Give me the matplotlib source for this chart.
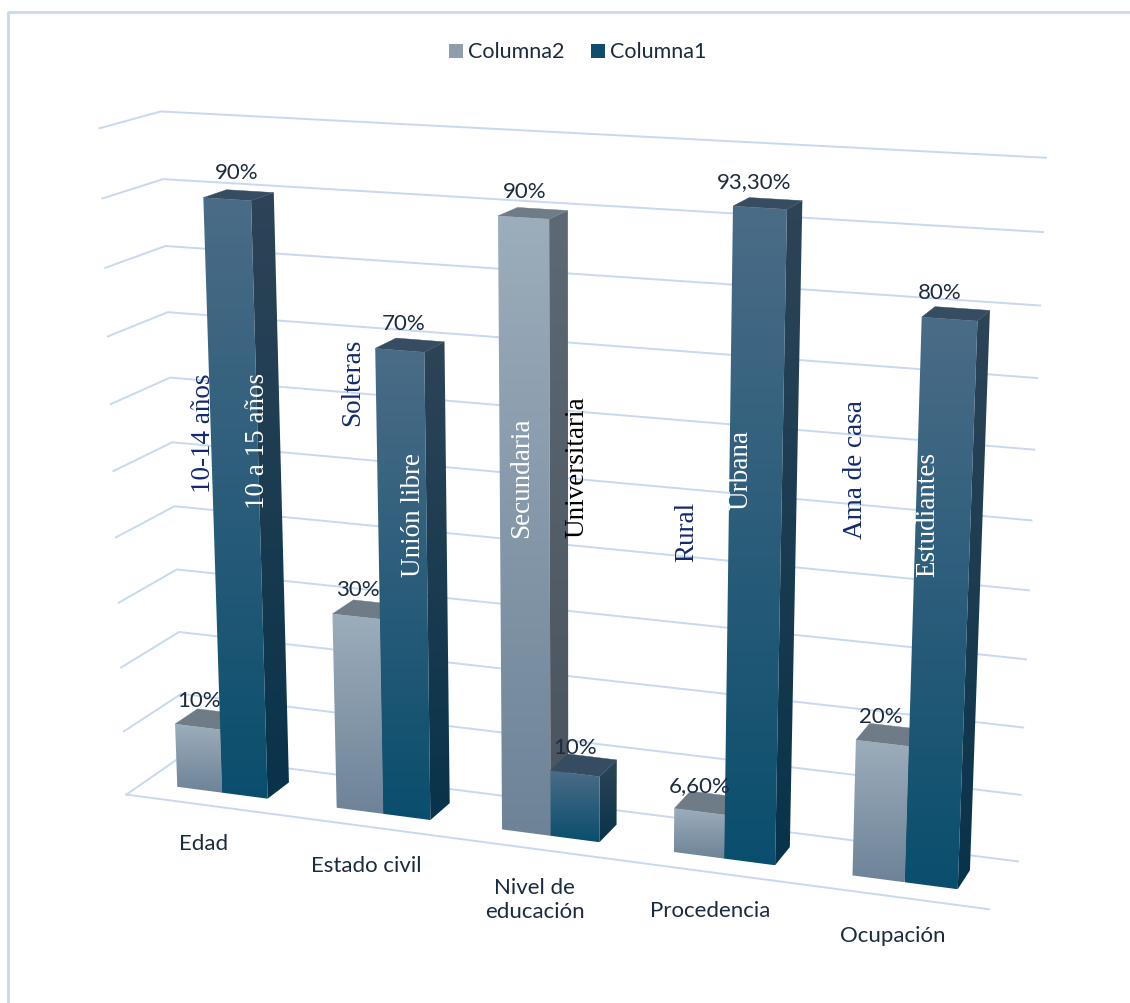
import numpy as np
import matplotlib
matplotlib.use("Agg")
import matplotlib.pyplot as plt
from matplotlib.patches import Polygon, Rectangle
from matplotlib.colors import LinearSegmentedColormap

## Data ---------------------------------------------------------------------
categories = ["Edad", "Estado civil", "Nivel de\neducación", "Procedencia", "Ocupación"]
columna2 = [0.10, 0.30, 0.90, 0.066, 0.20]
columna1 = [0.90, 0.70, 0.10, 0.933, 0.80]
labels2 = ["10%", "30%", "90%", "6,60%", "20%"]
labels1 = ["90%", "70%", "10%", "93,30%", "80%"]
names2 = ["10-14 años", "Solteras", "Secundaria", "Rural", "Ama de casa"]
names1 = ["10 a 15 años", "Unión libre", "Universitaria", "Urbana", "Estudiantes"]
ticks = np.linspace(0, 1, 11)

## Perspective camera (x = category, y = value, z = depth 0 front .. 1 back)
P = np.array([
    [154.2697792575696, -32.51322106791593, 63.6567911207541, 126.39894884341452],
    [6.1484361640897625, -673.5953594411399, -11.800980211896716, 795.5858184275733],
    [-0.01843807320142983, -0.05650059691906504, 0.036670006248791916, 1.0],
])


def proj(x, y, z):
    h = P @ np.array([x, y, z, 1.0])
    return h[0] / h[2], h[1] / h[2]


## Style --------------------------------------------------------------------
grid_c = "#c6d9f1"
text_c = "#1b2b3f"
navy = "#12296b"
bar_w = 1 / 3.5  # gap width 150%
z0, z1 = 0.3, 0.7  # gap depth 150%
col1_front = ("#4b6c87", "#0a4e6d")
col1_side = ("#2e4457", "#08334a")
col1_top = "#364c60"
col2_front = ("#9cadbb", "#6e8398")
col2_side = ("#5d6974", "#48535e")
col2_top = "#6f7c87"
fsize = 16

plt.rcParams["font.family"] = ["Lato", "DejaVu Sans"]

fig = plt.figure(figsize=(11.30, 10.04), dpi=100)
ax = fig.add_axes([0, 0, 1, 1])
ax.axis("off")


def shade(pts, c_top, c_bot, zorder):
    pts = np.array(pts)
    patch = Polygon(pts, closed=True, facecolor="none", edgecolor="none")
    ax.add_patch(patch)
    cmap = LinearSegmentedColormap.from_list("g", [c_top, c_bot])
    grad = np.linspace(0, 1, 256).reshape(-1, 1)
    im = ax.imshow(grad, cmap=cmap, aspect="auto", origin="upper", zorder=zorder,
                   interpolation="bilinear",
                   extent=(pts[:, 0].min(), pts[:, 0].max(), pts[:, 1].max(), pts[:, 1].min()))
    im.set_clip_path(patch)


def bar(x0, x1, v, front, side, top, zorder):
    f = [proj(x0, 0, z0), proj(x1, 0, z0), proj(x1, v, z0), proj(x0, v, z0)]
    s = [proj(x1, 0, z0), proj(x1, 0, z1), proj(x1, v, z1), proj(x1, v, z0)]
    t = [proj(x0, v, z0), proj(x1, v, z0), proj(x1, v, z1), proj(x0, v, z1)]
    shade(s, side[0], side[1], zorder)
    ax.add_patch(Polygon(t, closed=True, facecolor=top, edgecolor=top, lw=0.3, zorder=zorder))
    shade(f, front[0], front[1], zorder + 0.1)


## Walls and floor --------------------------------------------------------
n = len(categories)
for v in ticks:
    pts = [proj(0, v, 0), proj(0, v, 1), proj(n, v, 1)]
    ax.plot([p[0] for p in pts], [p[1] for p in pts], color=grid_c, lw=1.4, zorder=1,
            solid_joinstyle="miter")
a, b = proj(0, 0, 0), proj(n, 0, 0)
ax.plot([a[0], b[0]], [a[1], b[1]], color=grid_c, lw=1.4, zorder=1)

## Bars -------------------------------------------------------------------
for i in range(n):
    c = i + 0.5
    bar(c - bar_w, c, columna2[i], col2_front, col2_side, col2_top, 2 + i)
    bar(c, c + bar_w, columna1[i], col1_front, col1_side, col1_top, 2.5 + i)
    for x0, v, lab in [(c - bar_w, columna2[i], labels2[i]), (c, columna1[i], labels1[i])]:
        px, _ = proj(x0 + bar_w / 2, v / 2, z0)
        _, py = proj(x0 + bar_w / 2, v, z0)
        ax.text(px, py - 27, lab, ha="center", va="center", fontsize=fsize, color=text_c,
                zorder=20)
    # category label below the floor
    px, py = proj(c, 0, 0)
    ax.text(px - 2, py + 28, categories[i], ha="center", va="top", fontsize=fsize,
            color=text_c, linespacing=1.25, zorder=20)

## Text boxes written along the bars --------------------------------------
name_pos2 = [(203, 433, navy), (353, 382, navy), (522, 478, "white"), (687, 532, navy),
             (856, 470, navy)]
name_pos1 = [(257, 441, "white"), (413, 515, "white"), (577, 467, "black"), (741, 470, "white"),
             (928, 515, "white")]
for names, pos in [(names2, name_pos2), (names1, name_pos1)]:
    for txt, (x, y, col) in zip(names, pos):
        ax.text(x, y, txt, rotation=90, ha="center", va="center", fontsize=19.5, color=col,
                family=["Liberation Serif", "DejaVu Serif"], zorder=21)

## Legend -----------------------------------------------------------------
ax.add_patch(Rectangle((449, 45), 14, 14, facecolor="#8d9dab", edgecolor="none", zorder=20))
ax.text(468, 52, "Columna2", ha="left", va="center", fontsize=15.5, color=text_c, zorder=20)
ax.add_patch(Rectangle((591, 45), 14, 14, facecolor="#0e4d6c", edgecolor="none", zorder=20))
ax.text(610, 52, "Columna1", ha="left", va="center", fontsize=15.5, color=text_c, zorder=20)

## Chart frame ------------------------------------------------------------
ax.plot([8, 8, 1140], [1010, 13, 13], color=grid_c, lw=2, zorder=0)

ax.set_xlim(0, 1130)
ax.set_ylim(1004, 0)
fig.savefig("out.png", dpi=100)
